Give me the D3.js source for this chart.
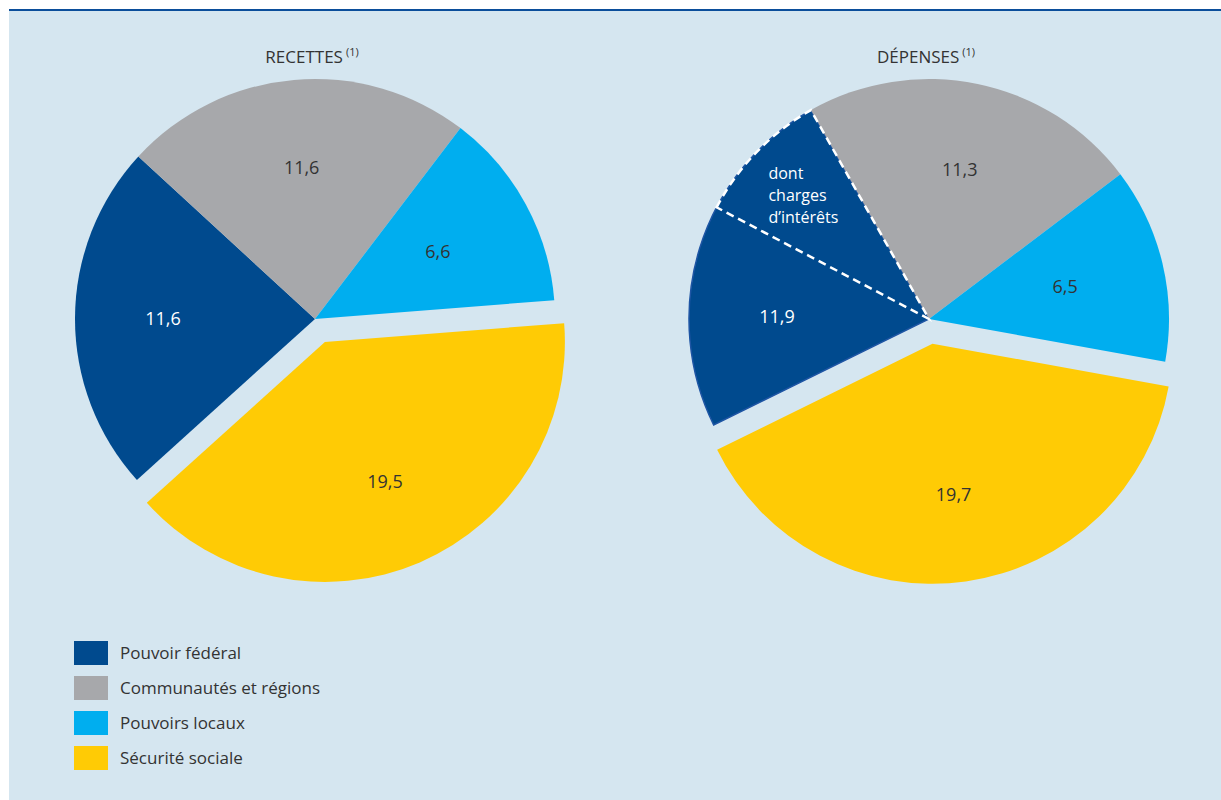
<!DOCTYPE html>
<html lang="fr">
<head>
<meta charset="utf-8">
<script src="https://cdn.jsdelivr.net/npm/d3@7"></script>
<style>
  html, body { margin: 0; padding: 0; background: #ffffff; }
  svg { display: block; font-family: "Open Sans", "Noto Sans", sans-serif; }
</style>
</head>
<body>
<svg id="chart" width="1221" height="800"></svg>
<script>
// Répartition par sous-secteur (en % du PIB)
const categories = ["Pouvoir fédéral", "Communautés et régions", "Pouvoirs locaux", "Sécurité sociale"];
const recettes = [11.6, 11.6, 6.6, 19.5];
const depenses = [11.9, 11.3, 6.5, 19.7];
const chargesInterets = 4.5;           // part du pouvoir fédéral
const colors = ["#004a8e", "#a7a8ab", "#00aeef", "#ffcb05"];
const titles = ["RECETTES", "DÉPENSES"];
const fmt = v => d3.format(".1f")(v).replace(".", ",");

const svg = d3.select("#chart");
const W = 1221, H = 800;
const FW = 400;

// fond du cadre et filet supérieur
svg.append("rect").attr("x", 9).attr("y", 9).attr("width", W - 9).attr("height", H - 9).attr("fill", "#d5e6f0");
svg.append("rect").attr("x", 9).attr("y", 9).attr("width", W - 9).attr("height", 2).attr("fill", "#0b4e9b");

const R = 240;
const explode = 25;
const labelR = 152;
const deg = Math.PI / 180;

const pies = [
  { title: titles[0], values: recettes, cx: 315, cy: 319, start: -132.1 * deg, interets: null },
  { title: titles[1], values: depenses, cx: 929, cy: 319, start: -116.2 * deg, interets: chargesInterets }
];

const arc = d3.arc().innerRadius(0).outerRadius(R);

pies.forEach(p => {
  const g = svg.append("g").attr("transform", `translate(${p.cx},${p.cy})`);
  const pie = d3.pie().sort(null).value(d => d)
    .startAngle(p.start).endAngle(p.start + 2 * Math.PI);
  const arcs = pie(p.values);
  const total = d3.sum(p.values);

  const offset = (d, i) => {
    if (i !== 3) return [0, 0];
    const m = (d.startAngle + d.endAngle) / 2;
    return [Math.sin(m) * explode, -Math.cos(m) * explode];
  };

  arcs.forEach((d, i) => {
    const [ox, oy] = offset(d, i);
    g.append("path")
      .attr("d", arc(d))
      .attr("transform", `translate(${ox},${oy})`)
      .attr("fill", colors[i])
      .attr("stroke", (i === 0 && p.interets !== null) ? "#1e55a4" : "none")
      .attr("stroke-width", 1.5);
  });

  // sous-secteur « dont charges d'intérêts »
  let labelArc0 = arcs[0];
  if (p.interets !== null) {
    const fed = arcs[0];
    const a0 = fed.endAngle - p.interets / total * 2 * Math.PI;
    const sub = { startAngle: a0, endAngle: fed.endAngle };
    g.append("path")
      .attr("d", arc(sub))
      .attr("fill", "none")
      .attr("stroke", "#ffffff")
      .attr("stroke-width", 2.5)
      .attr("stroke-dasharray", "8,5");
    labelArc0 = { startAngle: fed.startAngle, endAngle: a0 };
    const m = (sub.startAngle + sub.endAngle) / 2;
    const tx = Math.sin(m) * 168, ty = -Math.cos(m) * 168;
    ["dont", "charges", "d\u2019intérêts"].forEach((s, k) => {
      g.append("text")
        .attr("x", tx - 40).attr("y", ty - 23 + k * 22)
        .attr("fill", "#ffffff").attr("font-size", 16).attr("font-weight", FW)
        .text(s);
    });
  }

  // étiquettes de valeurs
  arcs.forEach((d, i) => {
    const a = i === 0 ? labelArc0 : d;
    const m = (a.startAngle + a.endAngle) / 2;
    const [ox, oy] = offset(d, i);
    const r = i === 2 ? 140 : labelR;
    g.append("text")
      .attr("x", Math.sin(m) * r + ox)
      .attr("y", -Math.cos(m) * r + oy)
      .attr("dy", "0.35em")
      .attr("text-anchor", "middle")
      .attr("font-size", 18)
      .attr("font-weight", FW)
      .attr("fill", i === 0 ? "#ffffff" : "#333333")
      .text(fmt(d.data));
  });

  // titre
  const tt = svg.append("text")
    .attr("x", p.cx - 3).attr("y", 63)
    .attr("text-anchor", "middle")
    .attr("fill", "#333333").attr("font-size", 17).attr("font-weight", FW);
  tt.append("tspan").text(p.title);
  tt.append("tspan").attr("font-size", 11).attr("dx", 3).attr("dy", -7).text("(1)");
});

// légende
const legend = svg.append("g").attr("transform", "translate(74,641)");
categories.forEach((c, i) => {
  const row = legend.append("g").attr("transform", `translate(0,${i * 35})`);
  row.append("rect").attr("width", 34).attr("height", 24).attr("fill", colors[i]);
  row.append("text").attr("x", 46).attr("y", 12).attr("dy", "0.35em")
    .attr("font-size", 17).attr("font-weight", FW).attr("fill", "#333333").text(c);
});
</script>
</body>
</html>
